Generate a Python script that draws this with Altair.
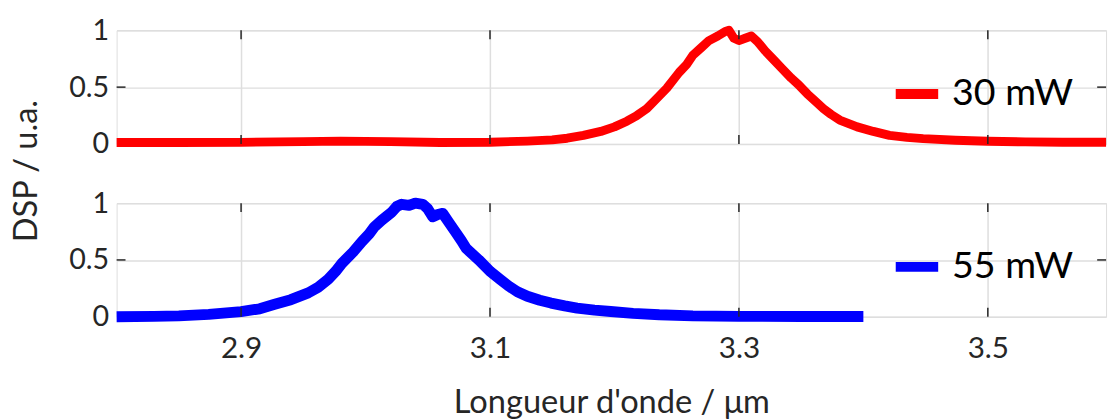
import altair as alt
import pandas as pd

# ---- data ----
RED_X = [2.80, 2.85, 2.90, 2.95, 2.98, 3.02, 3.06, 3.10, 3.13, 3.15, 3.162, 3.175,
         3.189, 3.20, 3.21, 3.218, 3.226, 3.234, 3.242, 3.252, 3.258, 3.263, 3.27,
         3.276, 3.283, 3.289, 3.292, 3.296, 3.30, 3.305, 3.31, 3.315, 3.321, 3.328,
         3.334, 3.342, 3.348, 3.355, 3.361, 3.368, 3.374, 3.381, 3.395, 3.408, 3.421,
         3.435, 3.448, 3.474, 3.50, 3.53, 3.56, 3.595]
RED_Y = [0.012, 0.012, 0.014, 0.02, 0.025, 0.02, 0.012, 0.015, 0.025, 0.035, 0.05, 0.075,
         0.11, 0.15, 0.20, 0.25, 0.31, 0.40, 0.49, 0.63, 0.70, 0.78, 0.85,
         0.91, 0.95, 0.99, 1.0, 0.93, 0.91, 0.93, 0.95, 0.90, 0.82, 0.74,
         0.67, 0.58, 0.52, 0.44, 0.38, 0.31, 0.26, 0.21, 0.15, 0.11, 0.075,
         0.058, 0.046, 0.032, 0.024, 0.018, 0.015, 0.015]

BLUE_X = [2.80, 2.83, 2.85, 2.874, 2.90, 2.915, 2.927, 2.94, 2.954, 2.962, 2.97, 2.976,
          2.981, 2.99, 2.997, 3.003, 3.007, 3.013, 3.021, 3.025, 3.029, 3.035, 3.040,
          3.046, 3.050, 3.054, 3.058, 3.062, 3.067, 3.072, 3.077, 3.081, 3.086, 3.091,
          3.10, 3.108, 3.115, 3.122, 3.130, 3.14, 3.149, 3.16, 3.17, 3.184, 3.197,
          3.215, 3.236, 3.263, 3.30, 3.35, 3.40]
BLUE_Y = [0.0, 0.003, 0.008, 0.02, 0.045, 0.07, 0.11, 0.15, 0.21, 0.26, 0.33, 0.40,
          0.47, 0.57, 0.66, 0.73, 0.79, 0.85, 0.92, 0.97, 0.99, 0.98, 1.0,
          0.99, 0.95, 0.88, 0.90, 0.91, 0.83, 0.75, 0.67, 0.60, 0.55, 0.50,
          0.40, 0.33, 0.27, 0.22, 0.18, 0.145, 0.12, 0.095, 0.075, 0.058, 0.046,
          0.03, 0.017, 0.007, 0.003, 0.002, 0.002]

LABEL_TOP = "30 mW"
LABEL_BOTTOM = "55 mW"
X_TICKS = [2.9, 3.1, 3.3, 3.5]
Y_TICKS = [0, 0.5, 1]
X_DOMAIN = [2.8, 3.595]
Y_DOMAIN = [0, 1]
X_TITLE = "Longueur d'onde / μm"
Y_TITLE = "DSP / u.a."

# ---- style ----
FONT = "Lato"
INK = "#262626"
GRID = "#dedede"
W, H = 1002, 115
TICK_LEN = 9


def panel(xs, ys, label, color, bottom):
    df = pd.DataFrame({"x": xs, "y": ys, "s": [label] * len(xs)})
    xscale = alt.Scale(domain=X_DOMAIN, nice=False, zero=False)
    yscale = alt.Scale(domain=Y_DOMAIN, nice=False)

    xaxis = alt.Axis(
        values=X_TICKS, format=".1f", grid=True, gridColor=GRID, gridWidth=1.5,
        domain=False, ticks=False, labels=bottom,
        labelFont=FONT, labelFontSize=30, labelColor=INK, labelPadding=17,
        title=X_TITLE if bottom else None,
        titleFont=FONT, titleFontSize=33, titleFontWeight="normal",
        titleColor=INK, titlePadding=24,
    )
    yaxis_kw = dict(
        values=Y_TICKS, labelExpr="'' + datum.value", grid=True, gridColor=GRID,
        gridWidth=1.5, domain=False, ticks=False,
        labelFont=FONT, labelFontSize=29, labelColor=INK, labelPadding=8,
    )
    if not bottom:
        yaxis = alt.Axis(
            title=Y_TITLE, titleFont=FONT, titleFontSize=33, titleFontWeight="normal",
            titleColor=INK, titleX=-91, titleY=142, titleAngle=270,
            titleBaseline="middle", titleAlign="center", **yaxis_kw)
    else:
        yaxis = alt.Axis(title=None, **yaxis_kw)

    line = alt.Chart(df).mark_line(
        strokeWidth=9 if not bottom else 11, strokeCap="butt", strokeJoin="round",
        clip=False,
    ).encode(
        x=alt.X("x:Q", scale=xscale, axis=xaxis),
        y=alt.Y("y:Q", scale=yscale, axis=yaxis),
        color=alt.Color(
            "s:N", scale=alt.Scale(domain=[label], range=[color]),
            legend=alt.Legend(
                orient="none", legendX=784, legendY=38, title=None,
                symbolType="stroke", symbolStrokeWidth=10, symbolSize=1849,
                labelFont=FONT, labelFontSize=38, labelColor="black",
                labelOffset=9, padding=0,
            ),
        ),
    )

    tdf = pd.DataFrame({"x": X_TICKS})
    top_ticks = alt.Chart(tdf).mark_rule(color=INK, strokeWidth=1.5).encode(
        x=alt.X("x:Q", scale=xscale, axis=xaxis),
        y=alt.value(0), y2=alt.value(TICK_LEN))
    bot_ticks = alt.Chart(tdf).mark_rule(color=INK, strokeWidth=1.5).encode(
        x=alt.X("x:Q", scale=xscale, axis=xaxis),
        y=alt.value(H - TICK_LEN), y2=alt.value(H))

    ydf = pd.DataFrame({"y": [v for v in Y_TICKS if Y_DOMAIN[0] < v < Y_DOMAIN[1]]})
    left_ticks = alt.Chart(ydf).mark_rule(color=INK, strokeWidth=1.5).encode(
        y=alt.Y("y:Q", scale=yscale, axis=yaxis),
        x=alt.value(0), x2=alt.value(TICK_LEN))
    right_ticks = alt.Chart(ydf).mark_rule(color=INK, strokeWidth=1.5).encode(
        y=alt.Y("y:Q", scale=yscale, axis=yaxis),
        x=alt.value(W - TICK_LEN), x2=alt.value(W))

    return alt.layer(line, top_ticks, bot_ticks, left_ticks, right_ticks).properties(
        width=W, height=H)


top = panel(RED_X, RED_Y, LABEL_TOP, "#ff0000", bottom=False)
bot = panel(BLUE_X, BLUE_Y, LABEL_BOTTOM, "#0000ff", bottom=True)

chart = alt.vconcat(top, bot, spacing=60, bounds="flush").resolve_scale(
    color="independent"
).properties(
    padding={"left": 2, "top": 5, "right": 0, "bottom": 0}
).configure_view(stroke=INK, strokeWidth=1.5).configure(background="white")

chart.save("out.html", embed_options={"renderer": "svg", "actions": False})
